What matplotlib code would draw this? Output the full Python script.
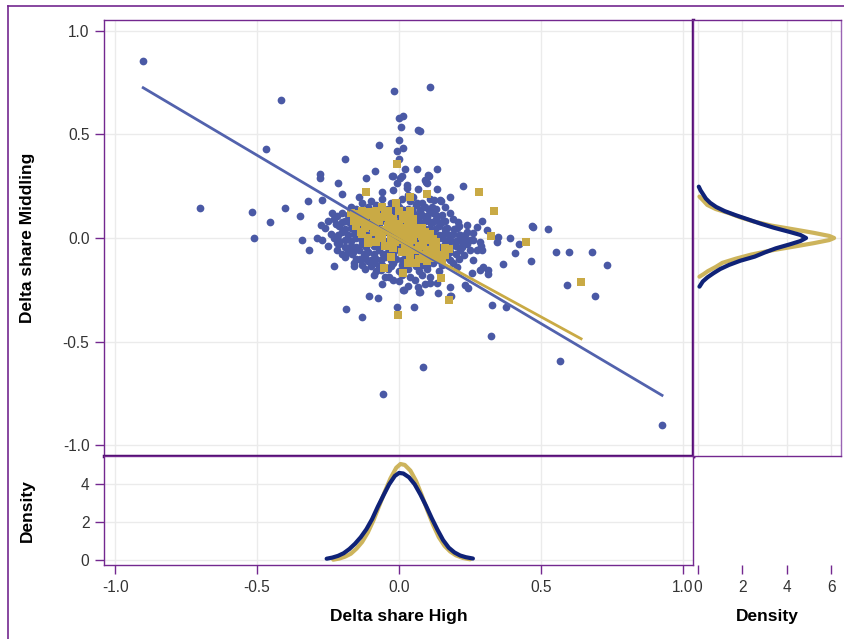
import numpy as np
import matplotlib
matplotlib.use("Agg")
from matplotlib import pyplot as plt
from matplotlib.lines import Line2D

plt.rcParams['font.family'] = ['Liberation Sans', 'DejaVu Sans']

# scattered points (Delta share High, Delta share Middling), group 1
blue_outer = [
    (-0.901, 0.855), (-0.415, 0.667), (-0.468, 0.430), (-0.700, 0.145), (-0.518, 0.126),
    (-0.510, 0.000), (-0.454, 0.077), (-0.401, 0.145), (-0.349, 0.106), (-0.342, -0.010),
    (-0.289, 0.000), (-0.317, -0.058), (-0.275, 0.063), (-0.250, 0.082), (-0.236, 0.121),
    (-0.218, 0.106), (-0.222, 0.068), (-0.271, 0.184), (-0.320, 0.179), (-0.280, 0.309),
    (-0.280, 0.290), (-0.215, 0.266), (-0.200, 0.213), (-0.141, 0.198), (-0.190, 0.380),
    (-0.116, 0.290), (-0.085, 0.324), (-0.070, 0.450), (-0.025, 0.300), (-0.007, 0.420),
    (0.014, 0.435), (0.000, 0.473), (0.007, 0.536), (0.000, 0.580), (0.014, 0.590),
    (-0.018, 0.710), (0.109, 0.730), (0.074, 0.517), (0.134, 0.333), (0.102, 0.304),
    (0.095, 0.270), (0.092, 0.280), (0.011, 0.300), (-0.007, 0.266), (0.028, 0.256),
    (0.028, 0.242), (0.225, 0.251), (0.134, 0.237), (0.180, 0.198), (0.123, 0.184),
    (0.148, 0.179), (0.468, 0.058), (0.525, 0.043), (0.553, -0.068), (0.599, -0.068),
    (0.680, -0.068), (0.732, -0.130), (0.592, -0.227), (0.690, -0.280), (0.390, 0.000),
    (0.423, -0.029), (0.408, -0.072), (0.465, -0.111), (0.366, -0.126), (0.327, -0.324),
    (0.377, -0.333), (0.349, 0.005), (0.345, -0.019), (0.292, 0.082), (0.310, 0.039),
    (0.275, 0.053), (0.260, 0.024), (0.239, 0.063), (0.208, 0.077), (0.204, 0.048),
    (0.232, 0.014), (0.250, -0.010), (0.222, -0.019), (0.197, -0.019), (0.285, -0.019),
    (0.275, -0.058), (0.292, -0.058), (0.250, -0.058), (0.215, -0.058), (0.260, -0.106),
    (0.296, -0.140), (0.313, -0.155), (0.313, -0.174), (0.285, -0.155), (0.257, -0.169),
    (0.204, -0.140), (0.180, -0.106), (0.144, -0.072), (0.232, -0.227), (0.243, -0.242),
    (0.180, -0.237), (0.180, -0.280), (0.134, -0.217), (0.137, -0.266), (0.067, -0.237),
    (0.074, -0.261), (0.056, -0.203), (0.109, -0.217), (0.018, -0.251), (-0.007, -0.333),
    (0.053, -0.333), (0.183, -0.280), (0.324, -0.473), (0.567, -0.594), (0.926, -0.903),
    (0.085, -0.625), (-0.056, -0.754), (-0.187, -0.343), (-0.130, -0.380), (-0.106, -0.280),
    (-0.074, -0.290), (0.014, -0.251), (0.070, -0.261), (-0.229, -0.135), (-0.158, -0.135),
    (-0.200, -0.077), (-0.162, -0.068), (-0.137, -0.101), (-0.109, -0.111), (-0.063, -0.155),
    (-0.035, -0.188), (-0.021, -0.203), (-0.218, -0.010), (-0.218, -0.024), (0.063, 0.169),
    (0.014, 0.135), (-0.007, 0.169), (0.074, 0.135), (0.109, 0.135), (0.116, 0.150),
    (0.144, 0.184), (0.099, 0.266), (0.155, 0.014), (0.180, -0.010), (0.215, 0.014),
    (0.144, 0.072), (0.120, 0.077), (0.099, 0.101), (0.137, 0.000), (0.472, 0.053),
    (0.067, 0.522), (0.021, 0.333), (0.063, 0.333), (0.000, 0.382), (0.106, 0.300),
    (0.067, 0.237), (-0.021, 0.300), (0.004, 0.290),
]

# dense centre of group 1
blue_core = [
    (-0.06, 0.22), (-0.02, 0.23), (0.03, 0.21), (0.05, 0.20),
    (-0.10, 0.18), (-0.13, 0.17), (-0.06, 0.19), (-0.03, 0.17), (0.01, 0.19), (0.04, 0.18),
    (0.08, 0.17), (0.11, 0.19),
    (-0.17, 0.15), (-0.15, 0.14), (-0.11, 0.15), (-0.08, 0.16), (-0.04, 0.14), (0.00, 0.15),
    (0.03, 0.14), (0.06, 0.16), (0.09, 0.15), (0.13, 0.14), (0.16, 0.15),
    (-0.20, 0.12), (-0.18, 0.11), (-0.14, 0.12), (-0.11, 0.11), (-0.07, 0.13), (-0.04, 0.12),
    (0.00, 0.11), (0.02, 0.12), (0.05, 0.12), (0.08, 0.11), (0.12, 0.12), (0.15, 0.11),
    (0.18, 0.12),
    (-0.23, 0.09), (-0.19, 0.08), (-0.16, 0.09), (-0.12, 0.08), (-0.09, 0.09), (-0.05, 0.08),
    (-0.02, 0.09), (0.02, 0.08), (0.06, 0.09), (0.09, 0.08), (0.13, 0.09), (0.16, 0.08),
    (0.19, 0.09),
    (-0.26, 0.05), (-0.21, 0.06), (-0.17, 0.05), (-0.14, 0.06), (-0.10, 0.05), (-0.07, 0.06),
    (-0.03, 0.05), (0.00, 0.06), (0.04, 0.05), (0.07, 0.06), (0.11, 0.05), (0.14, 0.06),
    (0.17, 0.05), (0.21, 0.06),
    (-0.24, 0.02), (-0.20, 0.03), (-0.16, 0.02), (-0.12, 0.03), (-0.08, 0.02), (-0.05, 0.03),
    (-0.01, 0.02), (0.02, 0.03), (0.06, 0.02), (0.09, 0.03), (0.12, 0.02), (0.16, 0.03),
    (0.19, 0.02), (0.24, 0.03),
    (-0.27, -0.01), (-0.23, 0.00), (-0.19, -0.01), (-0.15, 0.00), (-0.11, -0.01), (-0.07, 0.00),
    (-0.03, -0.01), (0.01, 0.00), (0.04, -0.01), (0.08, 0.00), (0.11, -0.01), (0.15, 0.00),
    (0.18, -0.01), (0.22, 0.00), (0.26, -0.01),
    (-0.25, -0.04), (-0.21, -0.03), (-0.17, -0.04), (-0.13, -0.03), (-0.09, -0.04), (-0.06, -0.03),
    (-0.02, -0.04), (0.02, -0.03), (0.06, -0.04), (0.09, -0.03), (0.13, -0.04), (0.16, -0.03),
    (0.20, -0.04), (0.24, -0.03), (0.29, -0.04),
    (-0.22, -0.06), (-0.18, -0.07), (-0.14, -0.06), (-0.11, -0.07), (-0.07, -0.06), (-0.04, -0.07),
    (0.00, -0.06), (0.04, -0.07), (0.07, -0.06), (0.11, -0.07), (0.15, -0.06), (0.18, -0.07),
    (0.23, -0.08),
    (-0.19, -0.09), (-0.15, -0.10), (-0.12, -0.09), (-0.08, -0.10), (-0.05, -0.09), (-0.01, -0.10),
    (0.03, -0.09), (0.06, -0.10), (0.10, -0.09), (0.13, -0.10), (0.17, -0.09), (0.21, -0.10),
    (-0.16, -0.12), (-0.13, -0.13), (-0.09, -0.12), (-0.06, -0.13), (-0.02, -0.12), (0.01, -0.13),
    (0.05, -0.12), (0.08, -0.13), (0.12, -0.12), (0.15, -0.13), (0.19, -0.12),
    (-0.12, -0.15), (-0.08, -0.16), (-0.04, -0.15), (0.00, -0.16), (0.03, -0.15), (0.07, -0.16),
    (0.10, -0.15), (0.14, -0.16),
    (-0.09, -0.18), (-0.05, -0.19), (0.01, -0.18), (0.04, -0.19), (0.08, -0.18), (0.11, -0.19),
    (-0.06, -0.22), (0.00, -0.21), (0.03, -0.23), (0.09, -0.22),
    # staggered fill of the centre
    (-0.12, 0.135), (-0.09, 0.135), (-0.05, 0.135), (-0.02, 0.135), (0.015, 0.135), (0.045, 0.135),
    (0.075, 0.135), (0.105, 0.135),
    (-0.16, 0.105), (-0.125, 0.105), (-0.09, 0.105), (-0.055, 0.105), (-0.02, 0.105), (0.01, 0.105),
    (0.035, 0.105), (0.065, 0.105), (0.10, 0.105), (0.135, 0.105),
    (-0.20, 0.075), (-0.175, 0.075), (-0.13, 0.075), (-0.105, 0.075), (-0.07, 0.075), (-0.035, 0.075),
    (0.00, 0.075), (0.035, 0.075), (0.075, 0.075), (0.11, 0.075), (0.15, 0.075),
    (-0.19, 0.045), (-0.155, 0.045), (-0.12, 0.045), (-0.085, 0.045), (-0.045, 0.045), (-0.015, 0.045),
    (0.025, 0.045), (0.055, 0.045), (0.09, 0.045), (0.125, 0.045), (0.16, 0.045), (0.195, 0.045),
    (-0.215, 0.015), (-0.18, 0.015), (-0.14, 0.015), (-0.10, 0.015), (-0.065, 0.015), (-0.03, 0.015),
    (0.005, 0.015), (0.04, 0.015), (0.075, 0.015), (0.105, 0.015), (0.14, 0.015), (0.175, 0.015),
    (0.21, 0.015),
    (-0.21, -0.015), (-0.17, -0.015), (-0.13, -0.015), (-0.09, -0.015), (-0.05, -0.015),
    (-0.015, -0.015), (0.025, -0.015), (0.06, -0.015), (0.095, -0.015), (0.13, -0.015),
    (0.165, -0.015), (0.20, -0.015), (0.24, -0.015),
    (-0.19, -0.045), (-0.15, -0.045), (-0.115, -0.045), (-0.075, -0.045), (-0.04, -0.045),
    (0.00, -0.045), (0.04, -0.045), (0.075, -0.045), (0.11, -0.045), (0.145, -0.045), (0.18, -0.045),
    (0.22, -0.045),
    (-0.165, -0.075), (-0.125, -0.075), (-0.09, -0.075), (-0.055, -0.075), (-0.02, -0.075),
    (0.02, -0.075), (0.055, -0.075), (0.09, -0.075), (0.125, -0.075), (0.165, -0.075), (0.20, -0.075),
    (-0.135, -0.105), (-0.10, -0.105), (-0.065, -0.105), (-0.03, -0.105), (0.01, -0.105),
    (0.045, -0.105), (0.08, -0.105), (0.115, -0.105), (0.15, -0.105),
    (-0.10, -0.135), (-0.07, -0.135), (-0.03, -0.135), (0.02, -0.135), (0.06, -0.135), (0.10, -0.135),
]

# group 2 (squares)
gold_points = [
    (-0.007, 0.357), (-0.116, 0.222), (0.039, 0.198), (0.099, 0.213), (0.282, 0.222),
    (0.335, 0.130), (0.324, 0.010), (0.447, -0.019), (0.641, -0.213), (0.176, -0.300),
    (0.148, -0.193), (0.176, -0.053), (0.127, -0.048), (0.120, -0.005), (0.127, -0.097),
    (-0.053, -0.145), (0.014, -0.169), (-0.004, -0.372), (0.039, 0.121), (-0.134, 0.029),
    (-0.109, -0.024),
    (-0.17, 0.12), (-0.15, 0.10), (-0.13, 0.13), (-0.12, 0.09), (-0.10, 0.11), (-0.08, 0.13),
    (-0.07, 0.08), (-0.05, 0.11), (-0.04, 0.06), (-0.02, 0.09), (0.00, 0.07), (0.01, 0.03),
    (0.03, 0.08), (0.04, 0.03), (0.06, 0.05), (-0.15, 0.06), (-0.12, 0.05), (-0.09, 0.03),
    (-0.06, 0.04), (-0.03, 0.01), (0.00, -0.01), (0.02, -0.03), (0.05, -0.01), (0.07, -0.04),
    (0.09, -0.01), (0.10, -0.06), (0.12, -0.04), (0.14, -0.08), (-0.08, -0.02), (-0.05, -0.04),
    (-0.02, -0.05), (0.01, -0.07), (0.04, -0.08), (0.07, -0.10), (-0.11, 0.00), (-0.13, 0.02),
    (0.02, 0.11), (0.05, 0.09), (0.08, 0.05), (-0.06, 0.15), (0.00, 0.13), (0.11, 0.02),
    (-0.01, 0.17), (0.06, -0.12), (0.10, -0.11), (-0.03, -0.09), (0.03, -0.12), (-0.10, 0.07),
    (-0.07, 0.02), (0.03, 0.00), (0.08, 0.01), (0.13, -0.02), (-0.04, 0.13), (0.04, 0.13),
    (0.16, -0.05), (0.15, -0.10), (-0.02, 0.03), (-0.09, 0.10),
    (-0.14, 0.115), (-0.11, 0.125), (-0.16, 0.08), (-0.135, 0.075), (-0.11, 0.06), (-0.085, 0.075),
    (-0.065, 0.10), (-0.035, 0.095), (-0.045, 0.035), (-0.015, 0.06), (0.015, 0.09), (0.02, 0.05),
    (0.05, 0.06), (-0.06, 0.00), (-0.03, -0.025), (0.01, 0.01), (0.035, -0.045), (0.06, -0.06),
    (0.085, -0.03), (0.11, -0.08), (0.13, -0.06), (0.085, -0.08), (0.06, 0.02), (0.09, 0.03),
    (-0.015, -0.02), (0.00, 0.03), (0.035, 0.025), (-0.09, 0.05), (0.12, -0.01), (0.16, -0.08),
]

# fitted lines: (intercept, slope, x start, x end)
blue_fit = (-0.0069, -0.8132, -0.901, 0.926)
gold_fit = (-0.006, -0.750, -0.17, 0.641)

# marginal density of Delta share High
dens_x_blue = [-0.255, -0.235, -0.215, -0.195, -0.175, -0.155, -0.135, -0.115, -0.095, -0.075,
               -0.055, -0.035, -0.015, 0.0, 0.015, 0.035, 0.055, 0.075, 0.095, 0.115,
               0.135, 0.155, 0.175, 0.195, 0.215, 0.235, 0.26]
dens_y_blue = [0.07, 0.13, 0.22, 0.36, 0.58, 0.86, 1.2, 1.62, 2.15, 2.8,
               3.4, 3.98, 4.42, 4.58, 4.55, 4.35, 3.98, 3.45, 2.85, 2.2,
               1.6, 1.05, 0.65, 0.4, 0.24, 0.15, 0.08]
dens_x_gold = [-0.232, -0.21, -0.19, -0.17, -0.15, -0.13, -0.11, -0.09, -0.07, -0.05,
               -0.03, -0.01, 0.005, 0.02, 0.04, 0.06, 0.08, 0.1, 0.12, 0.14,
               0.16, 0.18, 0.2, 0.225, 0.25]
dens_y_gold = [0.02, 0.08, 0.18, 0.33, 0.6, 0.95, 1.45, 2.1, 2.85, 3.6,
               4.3, 4.85, 5.05, 5.0, 4.7, 4.15, 3.4, 2.6, 1.85, 1.2,
               0.75, 0.45, 0.25, 0.11, 0.04]

# marginal density of Delta share Middling
rdens_y_blue = [0.248, 0.23, 0.21, 0.19, 0.17, 0.15, 0.13, 0.11, 0.09, 0.07, 0.05, 0.03, 0.015,
                0.0, -0.015, -0.03, -0.05, -0.07, -0.09, -0.11, -0.13, -0.15, -0.17, -0.19,
                -0.21, -0.235]
rdens_x_blue = [0.04, 0.12, 0.24, 0.36, 0.55, 0.82, 1.2, 1.7, 2.25, 2.8, 3.4, 4.1, 4.6,
                4.86, 4.6, 4.15, 3.5, 3.0, 2.55, 1.9, 1.4, 1.0, 0.7, 0.43,
                0.22, 0.07]
rdens_y_gold = [0.2, 0.18, 0.16, 0.14, 0.12, 0.1, 0.08, 0.06, 0.04, 0.025, 0.01, 0.0,
                -0.01, -0.025, -0.04, -0.06, -0.08, -0.1, -0.12, -0.14, -0.16, -0.175, -0.187]
rdens_x_gold = [0.07, 0.25, 0.42, 0.8, 1.4, 1.9, 2.5, 3.3, 4.4, 5.2, 5.9, 6.12,
                5.9, 5.2, 4.4, 3.3, 2.4, 1.7, 1.1, 0.8, 0.45, 0.25, 0.07]

main_ticks = [-1.0, -0.5, 0.0, 0.5, 1.0]
dens_ticks_bottom = [0, 2, 4]
dens_ticks_right = [0, 2, 4, 6]

c_blue = '#4a59a5'
c_gold = '#c9aa45'
c_blue_line = '#0f2277'
c_gold_line = '#cdb45c'
c_frame = '#73288f'
c_thick = '#4d0b6e'
c_grid = '#ebebeb'
c_text = '#333333'

fig = plt.figure(figsize=(8.45, 6.39), dpi=100)

x0, x1 = 104 / 845, 693 / 845
x2 = 841 / 845
y_top = 1 - 20 / 639
y_mid = 1 - 456 / 639
y_bot = 1 - 565 / 639

ax = fig.add_axes([x0, y_mid, x1 - x0, y_top - y_mid])
ax_b = fig.add_axes([x0, y_bot, x1 - x0, y_mid - y_bot], sharex=ax)
ax_r = fig.add_axes([x1, y_mid, x2 - x1, y_top - y_mid], sharey=ax)
ax_t = fig.add_axes([x1, y_bot, x2 - x1, y_mid - y_bot])

xlim = (-1.039, 1.035)
ylim = (-1.053, 1.053)
rlim = (-0.22, 6.43)

blue = np.array(blue_outer + blue_core)
gold = np.array(gold_points)

ax.scatter(blue[:, 0], blue[:, 1], s=31, marker='o', color=c_blue, linewidths=0, zorder=3)
ax.scatter(gold[:, 0], gold[:, 1], s=33, marker='s', color=c_gold, linewidths=0, zorder=4)

for fit, col in [(blue_fit, '#5262ad'), (gold_fit, c_gold)]:
    b0, b1, xa, xb = fit
    xs = np.array([xa, xb])
    ax.plot(xs, b0 + b1 * xs, color=col, lw=2, zorder=5)

lab_kw = dict(fontsize=12.5, fontweight='bold', color='black')

ax.set_xlim(*xlim)
ax.set_ylim(*ylim)
ax.set_yticks(main_ticks)
ax.set_yticklabels(['%.1f' % t for t in main_ticks])
ax.set_xticks(main_ticks)
ax.tick_params(axis='x', length=0, labelbottom=False)
ax.set_ylabel('Delta share Middling', **lab_kw)
ax.yaxis.set_label_coords(-0.117, 0.5)

line_kw = dict(lw=3, solid_joinstyle='round', solid_capstyle='round')
ax_b.plot(dens_x_blue, dens_y_blue, color=c_blue_line, zorder=3, **line_kw)
ax_b.plot(dens_x_gold, dens_y_gold, color=c_gold_line, zorder=2, **line_kw)
ax_b.set_ylim(-0.26, 5.47)
ax_b.set_yticks(dens_ticks_bottom)
ax_b.set_xticks(main_ticks)
ax_b.set_xticklabels(['%.1f' % t for t in main_ticks])
ax_b.set_ylabel('Density', **lab_kw)
ax_b.yaxis.set_label_coords(-0.117, 0.5)
ax_b.set_xlabel('Delta share High', **lab_kw)
ax_b.xaxis.set_label_coords(0.5, -0.40)

ax_r.plot(rdens_x_blue, rdens_y_blue, color=c_blue_line, zorder=3, **line_kw)
ax_r.plot(rdens_x_gold, rdens_y_gold, color=c_gold_line, zorder=2, **line_kw)
ax_r.set_xlim(*rlim)
ax_r.set_xticks(dens_ticks_right)
ax_r.tick_params(length=0, labelbottom=False, labelleft=False)

ax_t.set_xlim(*rlim)
ax_t.set_xticks(dens_ticks_right)
ax_t.set_yticks([])
ax_t.patch.set_visible(False)
for s in ax_t.spines.values():
    s.set_visible(False)
ax_t.set_xlabel('Density', **lab_kw)
ax_t.xaxis.set_label_coords(0.5, -0.40)

for a in (ax, ax_b, ax_r):
    a.grid(True, color=c_grid, lw=1)
    a.set_axisbelow(True)
    for s in a.spines.values():
        s.set_color(c_frame)
        s.set_linewidth(1)

ax.spines['right'].set_color(c_thick)
ax.spines['right'].set_linewidth(2.5)
ax.spines['bottom'].set_color(c_thick)
ax.spines['bottom'].set_linewidth(2.5)
ax_r.spines['right'].set_color('#9a64b4')

for a in (ax, ax_b, ax_t):
    a.tick_params(direction='out', length=6.5, width=1, color=c_frame,
                  labelcolor=c_text, labelsize=11.2, pad=4)

# outer frame
fig.add_artist(Line2D([8 / 845, 8 / 845], [0, 1 - 5.5 / 639], transform=fig.transFigure,
                      color=c_frame, lw=1.2))
fig.add_artist(Line2D([8 / 845, 1], [1 - 5.5 / 639, 1 - 5.5 / 639], transform=fig.transFigure,
                      color=c_frame, lw=1.2))

fig.savefig('out.png', dpi=100)
